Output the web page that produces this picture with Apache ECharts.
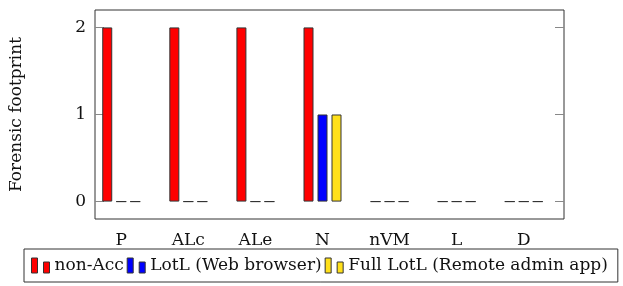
<!DOCTYPE html>
<html>
<head>
<meta charset="utf-8">
<script src="https://cdn.jsdelivr.net/npm/echarts@6/dist/echarts.min.js"></script>
<style>
  html, body { margin: 0; padding: 0; background: #fff; }
  #main { width: 623px; height: 286px; }
</style>
</head>
<body>
<div id="main"></div>
<script>
// data
var categories = ['P', 'ALc', 'ALe', 'N', 'nVM', 'L', 'D'];
var nonAcc   = [2, 2, 2, 2, 0, 0, 0];
var lotlWeb  = [0, 0, 0, 1, 0, 0, 0];
var fullLotl = [0, 0, 0, 1, 0, 0, 0];
var yTicks = [0, 1, 2];

var font = 'DejaVu Serif';
var myChart = echarts.init(document.getElementById('main'));

// bars live in grid 0 (inset so each category band is 67px),
// the framed box with the y ticks is grid 1
var barBase = {
  type: 'bar',
  xAxisIndex: 0,
  yAxisIndex: 0,
  barWidth: 10,
  barGap: '40%',
  itemStyle: { borderColor: '#333', borderWidth: 1 }
};

var option = {
  animation: false,
  textStyle: { fontFamily: font },
  grid: [
    { left: 87.7, right: 65.7, top: 10, bottom: 67 },
    { left: 81, right: 59, top: 10, bottom: 67, show: true, borderColor: '#333', borderWidth: 1 }
  ],
  legend: {
    top: 249,
    left: 24,
    padding: [8, 10, 8, 7],
    itemGap: 3,
    itemWidth: 18,
    itemHeight: 15,
    borderColor: '#333',
    borderWidth: 1,
    borderRadius: 0,
    icon: 'path://M0,0h6v15h-6z M12,4h6v11h-6z',
    itemStyle: { borderColor: '#333', borderWidth: 1 },
    textStyle: { fontFamily: font, fontSize: 17, color: '#111' }
  },
  xAxis: [
    {
      type: 'category', gridIndex: 0, data: categories,
      axisLine: { show: false, onZero: false },
      axisTick: { alignWithLabel: true, length: 9, lineStyle: { color: '#555' } },
      axisLabel: { margin: 13, fontFamily: font, fontSize: 17, color: '#111' }
    },
    {
      type: 'category', gridIndex: 0, data: categories, position: 'top',
      axisLine: { show: false, onZero: false },
      axisTick: { alignWithLabel: true, length: 9, lineStyle: { color: '#555' } },
      axisLabel: { show: false }
    },
    { type: 'value', gridIndex: 1, show: false, min: 0, max: 1 }
  ],
  yAxis: [
    { type: 'value', gridIndex: 0, min: -0.2, max: 2.2, show: false },
    {
      type: 'value', gridIndex: 1, min: -0.2, max: 2.2,
      name: 'Forensic footprint',
      nameLocation: 'middle',
      nameGap: 70,
      nameTextStyle: { fontFamily: font, fontSize: 17, color: '#111' },
      axisLine: { show: false, onZero: false },
      splitLine: { show: false },
      axisTick: { customValues: yTicks, inside: true, length: 9, lineStyle: { color: '#888' } },
      axisLabel: { customValues: yTicks, margin: 9, fontFamily: font, fontSize: 17, color: '#111' }
    },
    {
      type: 'value', gridIndex: 1, min: -0.2, max: 2.2, position: 'right',
      axisLine: { show: false, onZero: false },
      splitLine: { show: false },
      axisTick: { customValues: yTicks, inside: true, length: 9, lineStyle: { color: '#888' } },
      axisLabel: { show: false }
    }
  ],
  series: [
    Object.assign({}, barBase, { name: 'non-Acc', data: nonAcc, color: '#ff0000' }),
    Object.assign({}, barBase, { name: 'LotL (Web browser)', data: lotlWeb, color: '#0000ff' }),
    Object.assign({}, barBase, { name: 'Full LotL (Remote admin app)', data: fullLotl, color: '#ffe01a' })
  ]
};

myChart.setOption(option);
</script>
</body>
</html>
